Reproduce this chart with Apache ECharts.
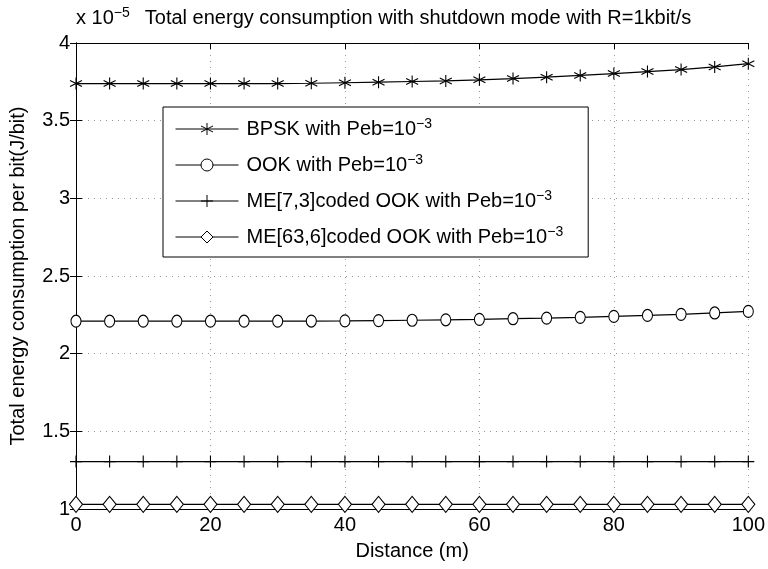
<!DOCTYPE html>
<html>
<head>
<meta charset="utf-8">
<script src="https://cdn.jsdelivr.net/npm/echarts@6/dist/echarts.min.js"></script>
<style>
  html, body { margin: 0; padding: 0; background: #fff; }
  #chart { width: 768px; height: 569px; }
</style>
</head>
<body>
<div id="chart"></div>
<script>
// 横轴 距离 (m)
var distance = [0, 5, 10, 15, 20, 25, 30, 35, 40, 45, 50, 55, 60, 65, 70, 75, 80, 85, 90, 95, 100];
// 纵轴数值，单位 x 10^-5 J/bit
var bpsk = [3.739, 3.739, 3.739, 3.739, 3.739, 3.739, 3.739, 3.741, 3.744, 3.748, 3.752, 3.756, 3.763, 3.771, 3.780, 3.791, 3.803, 3.816, 3.829, 3.846, 3.867];
var ook = [2.209, 2.209, 2.209, 2.209, 2.209, 2.209, 2.209, 2.210, 2.211, 2.213, 2.215, 2.218, 2.221, 2.225, 2.229, 2.234, 2.240, 2.246, 2.253, 2.262, 2.272];
var me73 = [1.305, 1.305, 1.305, 1.305, 1.305, 1.305, 1.305, 1.305, 1.305, 1.305, 1.305, 1.305, 1.305, 1.305, 1.305, 1.305, 1.305, 1.305, 1.305, 1.305, 1.305];
var me636 = [1.03, 1.03, 1.03, 1.03, 1.03, 1.03, 1.03, 1.03, 1.03, 1.03, 1.03, 1.03, 1.03, 1.03, 1.03, 1.03, 1.03, 1.03, 1.03, 1.03, 1.03];
var seriesNames = ['BPSK with Peb=10', 'OOK with Peb=10', 'ME[7,3]coded OOK with Peb=10', 'ME[63,6]coded OOK with Peb=10'];
var xTicks = [0, 20, 40, 60, 80, 100];
var yTicks = ['1', '1.5', '2', '2.5', '3', '3.5', '4'];

var font = 'Liberation Sans, Arial, sans-serif';
var fs = 20;

function pairs(ys){
  var out = [];
  for (let i = 0; i < distance.length; i++){
    out.push([distance[i], ys[i]]);
  }
  return out;
}

// 星号和加号用路径画
var starPath = 'path://M0,-10L0,10M-8.66,-5L8.66,5M-8.66,5L8.66,-5';
var plusPath = 'path://M0,-10L0,10M-10,0L10,0';

function lineSeries(name, ys, symbol, size, fill){
  return {
    name: name,
    type: 'line',
    data: pairs(ys),
    symbol: symbol,
    symbolSize: size,
    showAllSymbol: true,
    animation: false,
    lineStyle: { color: '#000', width: 1.2 },
    itemStyle: { color: fill, borderColor: '#000', borderWidth: 1.1 }
  };
}

var splitStyle = { show: true, lineStyle: { color: '#999', width: 1, type: [1, 5] } };

var option = {
  backgroundColor: '#fff',
  title: {
    text: 'Total energy consumption with shutdown mode with R=1kbit/s',
    left: 413,
    textAlign: 'center',
    top: 3,
    textStyle: { fontFamily: font, fontSize: fs, fontWeight: 'normal', color: '#000' }
  },
  grid: { left: 76, right: 19, top: 43, bottom: 60 },
  legend: {
    orient: 'vertical',
    left: 163,
    top: 107,
    padding: [10, 25, 10, 12],
    itemGap: 14,
    itemWidth: 63,
    itemHeight: 15,
    backgroundColor: '#fff',
    borderColor: '#000',
    borderWidth: 1,
    data: seriesNames,
    lineStyle: { width: 1 },
    itemStyle: { borderWidth: 1 },
    formatter: function(name){
      return name + '{sup|\u22123}';
    },
    textStyle: {
      fontFamily: font, fontSize: fs, color: '#000', padding: [0, 0, 0, 3],
      rich: { sup: { fontFamily: font, fontSize: 14, color: '#000', padding: [0, 0, 10, 0] } }
    }
  },
  xAxis: [{
    type: 'value',
    min: 0, max: 100, interval: 20,
    name: 'Distance (m)',
    nameLocation: 'middle',
    nameGap: 32,
    nameTextStyle: { fontFamily: font, fontSize: fs, color: '#000' },
    axisLine: { lineStyle: { color: '#000', width: 1 } },
    axisTick: { inside: true, length: 6, lineStyle: { color: '#000' } },
    axisLabel: { fontFamily: font, fontSize: fs, color: '#000', margin: 6,
      formatter: function(v){ return xTicks.indexOf(v) >= 0 ? String(v) : ''; } },
    splitLine: splitStyle
  }, {
    type: 'value', position: 'top',
    min: 0, max: 100, interval: 20,
    axisLine: { lineStyle: { color: '#000', width: 1 } },
    axisTick: { inside: true, length: 6, lineStyle: { color: '#000' } },
    axisLabel: { show: false },
    splitLine: { show: false }
  }],
  yAxis: [{
    type: 'value',
    min: 1, max: 4, interval: 0.5,
    name: 'Total energy consumption per bit(J/bit)',
    nameLocation: 'middle',
    nameGap: 48,
    nameTextStyle: { fontFamily: font, fontSize: fs, color: '#000' },
    axisLine: { show: true, lineStyle: { color: '#000', width: 1 } },
    axisTick: { show: true, inside: true, length: 6, lineStyle: { color: '#000' } },
    axisLabel: { fontFamily: font, fontSize: fs, color: '#000', margin: 6,
      formatter: function(v){ return yTicks[Math.round((v - 1) / 0.5)]; } },
    splitLine: splitStyle
  }, {
    type: 'value', position: 'right',
    min: 1, max: 4, interval: 0.5,
    axisLine: { show: true, lineStyle: { color: '#000', width: 1 } },
    axisTick: { show: true, inside: true, length: 6, lineStyle: { color: '#000' } },
    axisLabel: { show: false },
    splitLine: { show: false }
  }],
  graphic: [{
    type: 'text',
    left: 76, top: 6,
    z: 10,
    style: {
      text: 'x 10{sup|\u22125}',
      font: fs + 'px ' + font,
      fill: '#000',
      rich: { sup: { fontSize: 14, fontFamily: font, fill: '#000', padding: [0, 0, 10, 0] } }
    }
  }],
  series: [
    lineSeries(seriesNames[0], bpsk, starPath, 12, 'none'),
    lineSeries(seriesNames[1], ook, 'circle', [10, 12], '#fff'),
    lineSeries(seriesNames[2], me73, plusPath, 12, 'none'),
    lineSeries(seriesNames[3], me636, 'diamond', [13, 16], '#fff')
  ]
};

var myChart = echarts.init(document.getElementById('chart'));
myChart.setOption(option);
</script>
</body>
</html>
